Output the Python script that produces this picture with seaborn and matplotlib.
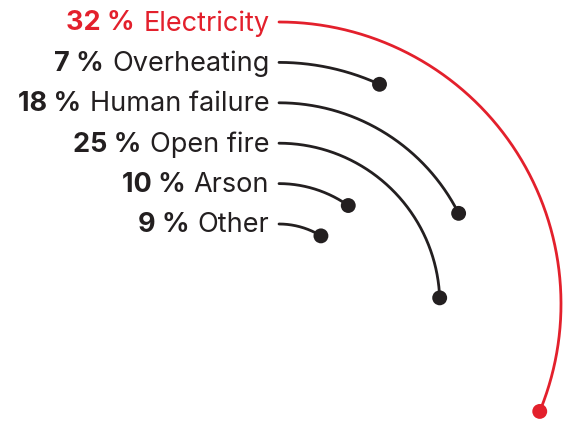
import numpy as np
import pandas as pd
import matplotlib.pyplot as plt
import seaborn as sns

# Fire causes (share in percent), drawn as concentric arcs from 12 o'clock
causes = ['Electricity', 'Overheating', 'Human failure', 'Open fire', 'Arson', 'Other']
shares = [32, 7, 18, 25, 10, 9]
colors = ['#e3202c', '#231f20', '#231f20', '#231f20', '#231f20', '#231f20']

FULL_CIRCLE = 102.5  # percent that would make a full turn
radius_outer = 282
radius_step = 40.4

sns.set_style('white')
plt.rcParams['font.family'] = ['Inter', 'DejaVu Sans']

W, H = 571, 423
fig = plt.figure(figsize=(W / 100, H / 100), dpi=100)

# polar axes centred at pixel (279, 304), one data unit = one pixel
cx, cy, R = 279, 304, 300
ax = fig.add_axes([(cx - R) / W, (H - cy - R) / H, 2 * R / W, 2 * R / H], projection='polar')
ax.set_theta_zero_location('N')
ax.set_theta_direction(-1)
ax.set_ylim(0, R)
ax.axis('off')

# build arc points from the shares
rows = []
ends = []
for i, (cause, share) in enumerate(zip(causes, shares)):
    r = radius_outer - i * radius_step
    theta = np.linspace(0, share / FULL_CIRCLE * 2 * np.pi, 200)
    for t in theta:
        rows.append({'cause': cause, 'theta': t, 'r': r})
    ends.append({'cause': cause, 'theta': theta[-1], 'r': r})
arcs = pd.DataFrame(rows)
ends = pd.DataFrame(ends)
palette = dict(zip(causes, colors))

sns.lineplot(data=arcs, x='theta', y='r', hue='cause', palette=palette, units='cause',
             estimator=None, sort=False, linewidth=2.0, legend=False, ax=ax)
sns.scatterplot(data=ends, x='theta', y='r', hue='cause', palette=palette, s=115,
                edgecolor='none', legend=False, ax=ax, clip_on=False, zorder=5)

# labels to the left of each arc start
for i, (cause, share, col) in enumerate(zip(causes, shares, colors)):
    r = radius_outer - i * radius_step
    name = ax.annotate(cause, xy=(0, r), xytext=(-7, -1), textcoords='offset points',
                       ha='right', va='center', fontsize=19.5, fontweight='normal',
                       color=col, annotation_clip=False)
    ax.annotate(f'{share} %', xy=(0, 0.5), xycoords=name, xytext=(-6, 0),
                textcoords='offset points', ha='right', va='center', fontsize=19.5,
                fontweight='bold', color=col)

fig.savefig('out.png', dpi=100)
